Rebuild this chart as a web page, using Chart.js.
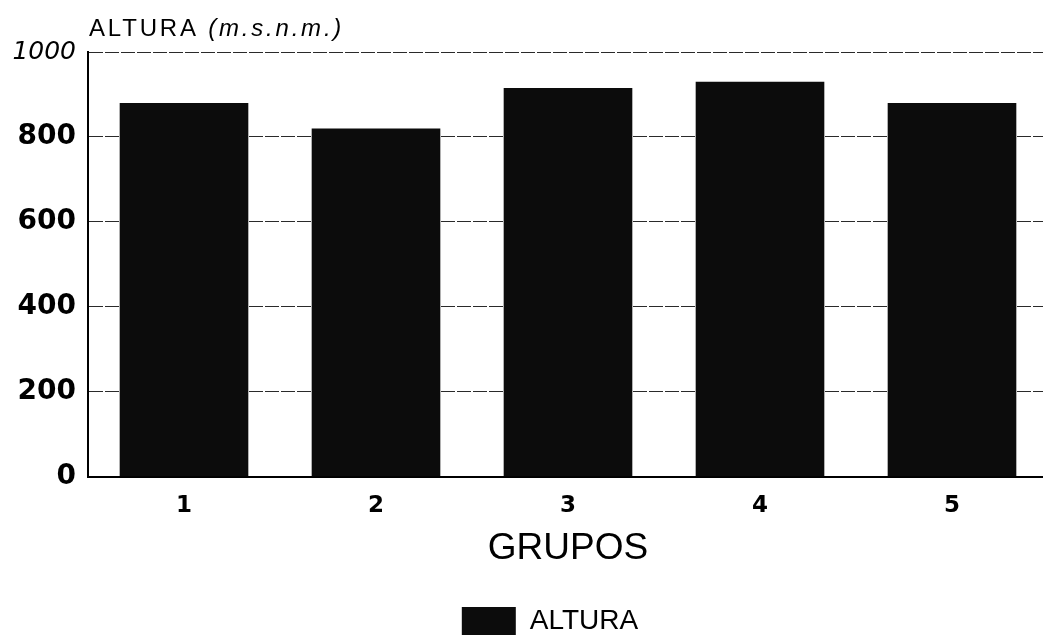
<!DOCTYPE html>
<html>
<head>
<meta charset="utf-8">
<script src="https://cdn.jsdelivr.net/npm/chart.js@4.4.1/dist/chart.umd.min.js"></script>
<style>
  html, body { margin: 0; padding: 0; background: #fff; overflow: hidden; }
  #wrap { position: absolute; left: 0; top: 0; width: 1050px; height: 642px; }
</style>
</head>
<body>
<div id="wrap"><canvas id="c"></canvas></div>
<script>
const categories = ['1', '2', '3', '4', '5'];
const alturaValues = [880, 820, 915, 930, 880];
const seriesLabel = 'ALTURA';
const yTickValues = [0, 200, 400, 600, 800, 1000];
const yAxisTitleMain = 'ALTURA ';
const yAxisTitleUnit = '(m.s.n.m.)';
const xAxisTitle = 'GRUPOS';

const BAR_COLOR = '#0c0c0c';

const topTitlePlugin = {
  id: 'topTitle',
  afterDraw(chart) {
    const ctx = chart.ctx;
    const x = chart.chartArea.left + 1;
    const y = 36;
    ctx.save();
    ctx.fillStyle = '#000';
    ctx.textBaseline = 'alphabetic';
    ctx.textAlign = 'left';
    try { ctx.letterSpacing = '2.8px'; } catch (e) {}
    ctx.font = '24px "Liberation Sans", Arial, sans-serif';
    ctx.fillText(yAxisTitleMain, x, y);
    const w = ctx.measureText(yAxisTitleMain).width;
    ctx.font = 'italic 24px "Liberation Sans", Arial, sans-serif';
    ctx.fillText(yAxisTitleUnit, x + w, y);
    ctx.restore();
  }
};

const legendShiftPlugin = {
  id: 'legendShift',
  afterLayout(chart) {
    if (chart.legend) {
      chart.legend.left += 26;
      chart.legend.right += 26;
      chart.legend.top += 3;
      chart.legend.bottom += 3;
    }
  }
};

new Chart(document.getElementById('c'), {
  type: 'bar',
  data: {
    labels: categories,
    datasets: [{
      label: seriesLabel,
      data: alturaValues,
      backgroundColor: BAR_COLOR,
      borderColor: BAR_COLOR,
      borderWidth: 0,
      barPercentage: 0.67,
      categoryPercentage: 1.0
    }]
  },
  options: {
    responsive: true,
    maintainAspectRatio: false,
    animation: false,
    layout: { padding: { top: 52, right: 2, left: 0, bottom: 0 } },
    plugins: {
      title: { display: false },
      tooltip: { enabled: false },
      legend: {
        display: true,
        position: 'bottom',
        labels: {
          boxWidth: 54,
          boxHeight: 28,
          padding: 4,
          color: '#000',
          font: { family: '"Liberation Sans", Arial, sans-serif', size: 28 }
        }
      }
    },
    scales: {
      x: {
        grid: { display: false, drawTicks: false },
        border: { display: true, color: '#000', width: 2 },
        ticks: {
          color: '#000',
          padding: 15,
          font: { family: '"DejaVu Sans", sans-serif', size: 23, weight: 'bold' }
        },
        title: {
          display: true,
          text: xAxisTitle,
          color: '#000',
          padding: { top: 0, bottom: 36 },
          font: { family: '"Liberation Sans", Arial, sans-serif', size: 37, lineHeight: 0.8 }
        }
      },
      y: {
        min: 0,
        max: 1000,
        afterFit(scale) { scale.width = 88; },
        afterBuildTicks(scale) { scale.ticks = yTickValues.map(v => ({ value: v })); },
        grid: {
          drawTicks: false,
          color: '#2a2a2a',
          lineWidth: 1
        },
        border: { display: true, color: '#000', width: 2, dash: [14, 2] },
        ticks: {
          color: '#000',
          padding: 12,
          callback: (v) => String(v),
          font: (ctx) => (ctx.tick && ctx.tick.value === 1000)
            ? { family: '"DejaVu Sans", sans-serif', size: 25, style: 'italic', weight: 'normal' }
            : { family: '"DejaVu Sans", sans-serif', size: 28, weight: 'bold' }
        }
      }
    }
  },
  plugins: [topTitlePlugin, legendShiftPlugin]
});
</script>
</body>
</html>
